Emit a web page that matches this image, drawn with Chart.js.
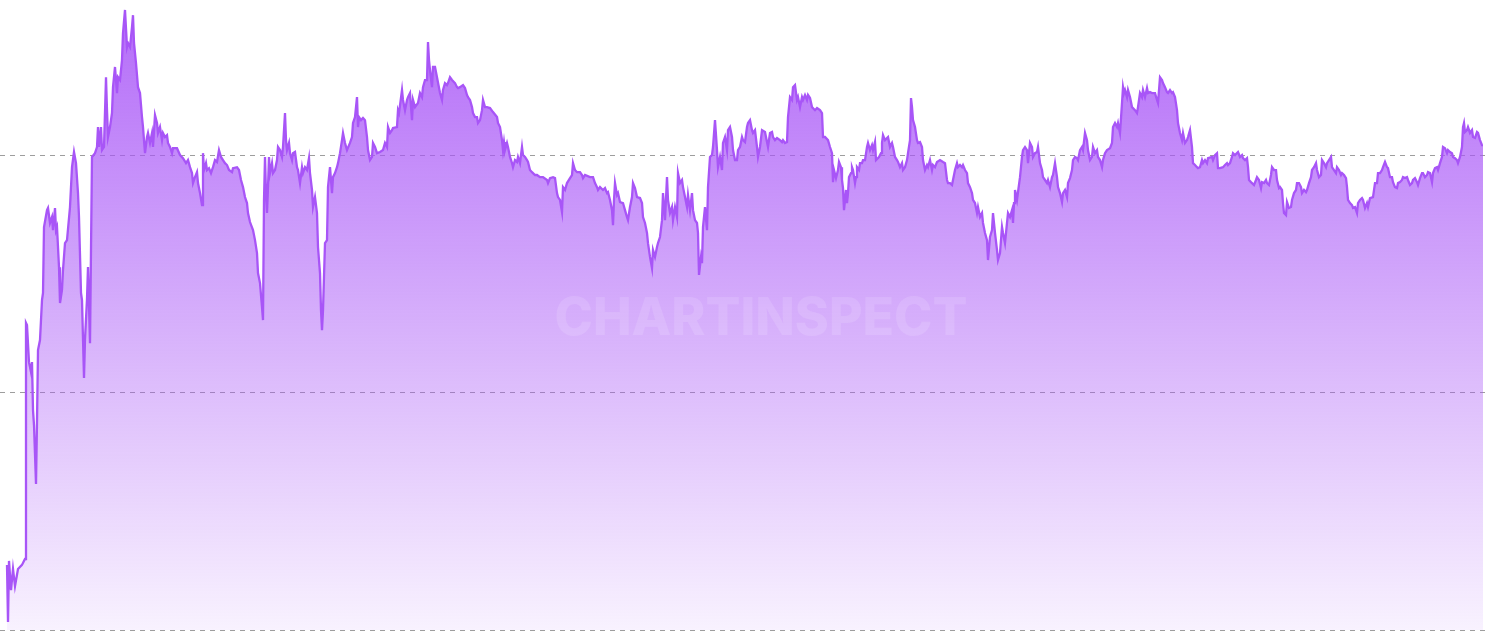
<!DOCTYPE html>
<html>
<head>
<meta charset="utf-8">
<script src="https://cdn.jsdelivr.net/npm/chart.js@4/dist/chart.umd.min.js"></script>
<style>
  html, body { margin: 0; padding: 0; background: #ffffff; }
  #wrap { width: 1490px; height: 633px; position: relative; }
</style>
</head>
<body>
<div id="wrap"><canvas id="metricChart"></canvas></div>
<script>
// day offsets from the first sample
const days = [
    0,1,2,4,6,8,11,15,18,19,
    20,22,24,25,26,27,29,30,31,33,
    35,36,37,40,41,43,45,46,48,49,
    50,52,53,55,56,58,60,63,65,67,
    69,71,72,74,75,77,78,80,81,83,
    85,88,90,91,92,94,95,97,99,100,
    101,103,105,106,108,110,111,113,115,116,
    118,120,121,123,125,126,127,129,131,133,
    135,136,138,140,141,143,145,146,148,150,
    151,153,155,156,158,160,161,163,165,166,
    170,173,176,179,181,183,185,186,188,190,
    191,193,195,196,197,199,200,202,204,206,
    208,210,212,214,216,218,220,222,225,226,
    230,232,234,236,238,240,241,243,246,248,
    250,251,253,255,256,257,258,259,260,261,
    262,263,265,266,268,270,271,273,275,276,
    278,279,280,282,283,285,286,288,290,291,
    293,295,296,298,300,302,303,305,306,308,
    310,311,313,314,315,316,318,320,321,323,
    325,326,328,330,331,333,335,336,338,340,
    343,345,346,348,350,351,352,354,356,358,
    360,361,363,365,366,368,370,373,376,378,
    380,381,383,385,386,390,391,392,395,396,
    398,400,401,403,405,406,408,411,413,415,
    416,418,420,421,422,423,425,426,428,430,
    433,435,436,438,440,441,443,445,448,450,
    451,453,456,458,460,461,463,465,466,468,
    470,471,473,475,476,478,480,483,486,490,
    491,493,495,496,497,498,500,501,503,505,
    506,508,510,511,513,515,516,518,520,521,
    523,525,528,530,533,536,540,541,543,546,
    548,550,551,553,555,556,558,560,563,565,
    566,568,570,573,575,576,578,583,586,588,
    590,591,593,596,598,600,601,603,605,606,
    607,608,610,611,613,616,618,620,621,623,
    625,626,628,630,633,635,636,638,640,641,
    643,645,646,648,650,651,653,655,656,658,
    660,661,663,665,666,668,670,671,673,675,
    676,678,680,681,683,685,686,688,690,691,
    692,694,695,696,698,700,701,703,705,706,
    708,710,711,713,715,716,718,720,721,723,
    725,726,728,730,731,733,735,736,738,740,
    741,743,745,746,748,750,751,753,755,758,
    760,761,763,765,766,768,770,773,775,776,
    778,780,781,783,785,786,788,790,791,793,
    795,796,798,800,801,803,805,808,810,813,
    815,816,818,821,823,825,826,827,829,831,
    832,834,835,836,837,839,840,841,842,844,
    845,846,848,849,850,852,853,855,856,858,
    860,861,863,865,866,868,869,872,874,875,
    876,878,880,881,883,885,886,888,890,891,
    893,895,896,898,900,901,903,904,905,906,
    908,910,911,913,915,916,918,920,921,923,
    925,926,928,930,933,936,938,940,941,943,
    945,946,948,950,951,953,955,956,958,960,
    961,963,965,966,968,970,971,973,975,976,
    978,980,981,983,985,986,988,990,991,993,
    995,996,998,1000,1001,1003,1005,1006,1007,1008,
    1010,1011,1013,1015,1016,1018,1020,1021,1023,1025,
    1026,1028,1030,1031,1033,1035,1036,1038,1040,1041,
    1043,1045,1046,1048,1050,1051,1053,1055,1056,1058,
    1060,1061,1063,1065,1066,1068,1070,1071,1073,1075,
    1076,1078,1080,1081,1083,1085,1086,1088,1090,1091,
    1093,1095,1096,1098,1100,1103,1105,1106,1108,1110,
    1111,1113,1115,1116,1117,1118,1120,1121,1123,1125,
    1128,1130,1131,1133,1135,1136,1138,1140,1141,1143,
    1145,1148,1150,1151,1153,1155,1156,1158,1160,1161,
    1163,1165,1166,1168,1170,1171,1173,1175,1176,1178,
    1180,1181,1183,1185,1186,1188,1190,1191,1193,1195,
    1196,1198,1200,1201,1205,1206,1208,1210,1211,1213,
    1216,1218,1220,1221,1223,1225,1226,1228,1231,1233,
    1235,1236,1238,1240,1241,1242,1244,1245,1247,1249,
    1250,1252,1254,1255,1257,1259,1260,1262,1264,1265,
    1267,1269,1270,1272,1273,1275,1276,1277,1279,1280,
    1282,1284,1285,1287,1289,1290,1292,1294,1295,1297,
    1299,1300,1302,1304,1305,1307,1309,1310,1312,1314,
    1315,1317,1319,1320,1322,1324,1325,1327,1329,1330,
    1332,1334,1335,1337,1339,1340,1341,1343,1345,1346,
    1348,1350,1351,1353,1355,1356,1358,1360,1361,1363,
    1366,1368,1370,1371,1373,1375,1376,1378,1380,1381,
    1383,1385,1386,1388,1390,1391,1393,1395,1396,1398,
    1400,1401,1403,1405,1406,1408,1410,1411,1413,1415,
    1416,1418,1420,1421,1423,1425,1426,1428,1430,1431,
    1433,1435,1436,1438,1440,1441,1443,1445,1446,1448,
    1450,1451,1453,1455,1456,1457,1458,1460,1461,1463,
    1465,1466,1468,1470,1471,1473,1475,1476
];

const metricValues = [
    27.4,3.4,29.1,16.8,25.7,18.5,25.7,27.4,29.9,129.3,
    128.4,112.8,108.6,112.8,92.6,86.3,61.5,87.6,117.9,122.1,
    138.9,141.9,169.7,176.8,177.7,171.4,173.9,168.4,177.7,168.4,
    169.7,152.8,137.7,143.2,151.6,162.9,164.2,178.1,194.9,201.3,
    196.6,184.0,173.9,141.9,138.9,106.1,122.5,139.4,152.8,120.8,
    199.2,200.8,203.4,211.8,203.4,211.8,202.1,203.4,232.8,218.9,
    207.6,211.8,217.7,228.6,237.1,226.1,232.8,231.6,240.0,251.4,
    261.1,245.5,247.2,245.5,253.9,258.9,247.2,238.7,228.6,226.1,
    216.0,211.8,200.8,207.6,209.3,205.1,209.3,203.4,216.8,213.5,
    209.3,211.8,206.3,209.3,207.6,208.4,205.1,203.4,200.8,202.9,
    202.9,200.0,198.7,196.6,197.9,194.9,192.4,188.2,190.7,192.8,
    188.2,184.0,178.9,200.8,193.7,196.6,193.7,194.5,192.4,194.9,
    197.9,197.1,202.1,199.2,197.9,196.6,195.8,193.7,192.8,194.5,
    194.9,193.7,189.5,186.5,182.3,179.8,175.6,171.8,168.4,164.2,
    158.7,150.3,146.1,136.0,130.5,181.1,199.2,184.0,175.6,186.5,
    199.2,192.4,196.6,192.4,193.7,197.9,203.4,202.1,199.2,203.4,
    217.7,206.3,202.1,205.1,200.8,197.9,200.8,201.3,194.9,193.7,
    188.2,194.9,192.4,194.9,193.7,198.7,192.4,185.3,178.1,182.3,
    175.6,161.3,150.3,134.7,126.3,134.7,162.9,164.2,186.5,194.9,
    184.0,190.7,192.4,194.9,196.6,200.8,206.3,209.3,205.1,202.1,
    205.1,207.6,213.5,216.0,224.4,211.8,216.0,214.7,215.6,214.7,
    207.6,202.1,197.9,199.2,205.1,203.4,200.8,201.3,202.1,205.1,
    203.4,211.8,209.3,210.5,211.4,211.8,218.9,217.7,227.4,223.2,
    218.9,223.2,224.4,226.1,214.7,223.2,220.2,221.9,226.1,224.4,
    228.6,231.6,231.6,247.6,240.0,235.8,228.6,237.1,237.1,232.8,
    226.1,223.2,227.4,230.3,229.5,230.3,232.8,231.6,230.3,228.6,
    228.2,228.6,229.5,228.2,225.3,224.4,223.2,220.2,217.7,216.0,
    216.0,213.5,214.7,218.9,223.2,220.2,220.2,219.8,218.1,216.0,
    213.5,211.8,206.3,202.1,205.5,202.1,205.1,203.4,199.2,196.6,
    194.9,197.9,197.1,199.2,196.6,203.4,200.0,199.2,197.9,197.1,
    193.7,192.8,191.6,191.6,190.7,190.7,189.5,188.2,190.3,190.7,
    190.3,184.0,182.3,181.1,176.0,186.5,185.3,188.2,190.3,191.6,
    196.6,193.7,192.8,192.8,191.6,190.3,191.6,190.7,190.7,188.2,
    186.5,185.3,186.5,185.3,186.1,184.0,184.4,181.1,176.8,170.5,
    181.1,188.2,183.2,184.0,180.2,179.8,176.8,173.9,172.6,178.1,
    182.3,188.2,186.1,182.3,181.9,179.8,173.9,171.4,167.2,162.9,
    157.1,152.4,160.0,157.1,161.3,162.9,165.5,172.6,184.0,172.6,
    190.7,181.1,175.6,178.1,172.6,178.1,173.9,192.4,188.2,189.5,
    186.5,182.3,178.1,183.2,176.8,184.0,176.8,172.6,171.4,167.2,
    149.5,157.1,154.5,169.7,178.1,168.4,186.5,199.2,200.0,203.4,
    214.7,202.1,194.9,199.2,193.7,205.1,207.6,202.1,210.5,211.8,
    207.6,202.1,197.9,197.9,202.1,203.4,207.6,206.3,205.5,211.8,
    213.5,214.7,210.5,209.3,210.5,203.4,199.2,203.4,210.5,209.7,
    205.5,203.4,209.3,209.7,207.6,206.3,207.2,206.3,205.5,206.3,
    205.1,205.5,216.0,224.4,223.2,228.6,229.5,223.2,224.4,220.2,
    224.4,223.2,225.3,223.2,225.3,224.0,220.2,218.9,219.8,218.9,
    217.7,207.6,207.6,206.3,203.4,200.8,188.6,193.7,190.3,193.7,
    197.1,194.9,189.5,186.1,176.8,185.3,179.8,184.0,190.7,192.4,
    194.9,193.7,188.2,190.7,194.9,193.7,196.6,196.6,197.9,197.9,
    203.4,205.1,202.1,204.2,202.1,205.5,197.9,199.2,200.8,205.1,
    208.4,206.3,207.2,207.6,203.4,205.1,203.4,199.2,197.9,197.1,
    194.9,196.6,193.7,194.9,197.9,200.8,206.3,224.0,220.2,214.7,
    211.8,206.3,205.1,205.5,203.4,197.9,193.7,195.8,194.9,197.9,
    193.7,195.8,194.9,197.1,197.9,197.1,196.6,189.5,188.2,188.2,
    187.4,189.5,193.7,196.6,194.9,195.8,194.9,195.8,193.7,192.4,
    188.2,186.5,184.0,181.1,179.8,175.6,178.1,173.9,175.6,171.4,
    167.2,164.2,155.8,165.5,168.4,175.6,167.2,160.0,155.8,158.7,
    169.7,167.2,162.9,171.4,175.6,173.9,176.8,171.4,179.8,185.3,
    181.1,184.4,190.7,199.2,202.1,203.4,202.1,196.6,205.1,203.4,
    199.2,200.8,201.3,203.4,196.6,193.7,190.7,189.5,188.2,189.5,
    186.5,190.7,191.6,196.6,190.7,186.5,184.0,180.2,184.0,185.3,
    182.3,188.2,190.3,193.7,197.9,199.2,198.7,197.9,202.1,203.4,
    202.1,209.3,206.3,202.1,197.9,199.2,203.4,200.8,202.1,199.2,
    197.9,194.9,197.9,200.8,202.1,202.9,205.1,211.8,213.5,211.8,
    213.5,209.3,221.9,228.6,226.1,227.4,224.4,227.4,224.4,220.2,
    218.9,217.7,220.2,226.1,224.4,227.4,224.4,228.2,226.1,226.5,
    226.1,226.1,223.2,221.9,232.8,231.6,230.3,228.6,226.5,226.1,
    227.4,226.1,226.5,224.4,218.9,213.5,209.3,206.3,209.3,205.1,
    206.3,207.6,210.5,203.4,196.6,195.8,194.9,194.5,194.9,197.9,
    196.6,197.9,196.6,198.7,199.2,197.9,200.0,200.8,194.5,194.5,
    194.9,195.8,196.6,195.8,196.6,199.2,200.8,200.0,201.3,199.2,
    200.0,198.7,197.9,198.7,194.9,189.5,188.6,188.2,187.4,189.5,
    190.7,189.5,186.1,188.6,188.2,189.5,188.2,187.4,191.6,194.9,
    193.7,193.7,189.5,186.1,186.5,185.3,179.8,175.6,174.7,180.2,
    177.7,178.1,181.1,184.0,185.3,188.2,188.2,186.5,184.0,185.3,
    184.4,185.3,188.2,190.7,193.7,194.9,196.6,193.7,190.7,191.6,
    197.9,196.6,194.9,196.6,197.9,199.2,194.9,193.7,192.4,194.9,
    193.7,191.6,192.4,191.6,190.3,186.5,181.1,179.8,178.9,177.7,
    178.1,175.6,179.8,181.1,181.9,181.1,177.7,179.8,178.1,181.9,
    182.3,188.2,188.2,192.4,192.4,193.7,194.9,197.1,194.9,194.5,
    190.7,190.7,188.6,186.5,186.1,188.2,188.6,189.5,190.7,190.3,
    190.7,189.5,187.4,188.2,189.5,190.3,188.6,187.4,190.3,192.4,
    192.4,190.7,191.6,192.8,192.4,188.6,192.4,194.5,194.9,193.7,
    196.6,199.2,203.4,202.9,200.8,202.1,201.3,200.8,199.2,198.7,
    197.9,196.6,199.2,203.4,211.8,213.5,209.7,210.5,211.8,209.3,
    210.5,207.6,207.2,209.7,209.3,206.3,204.2,204.2
];

// horizontal reference lines
const yGridValues = [0, 100, 200];
const yMax = 265.3;

const watermarkText = "CHARTINSPECT";

const purple = 'rgb(168, 85, 247)';

const watermarkPlugin = {
    id: 'watermark',
    afterDatasetsDraw(chart) {
        const { ctx, chartArea } = chart;
        const cx = (chartArea.left + chartArea.right) / 2 + 18;
        ctx.save();
        ctx.font = '800 52px Inter, "Noto Sans", sans-serif';
        ctx.textAlign = 'center';
        ctx.textBaseline = 'alphabetic';
        ctx.fillStyle = 'rgba(255, 255, 255, 0.12)';
        ctx.fillText(watermarkText, cx, chartArea.top + 335, 413);
        ctx.restore();
    }
};

const ctx = document.getElementById('metricChart').getContext('2d');

new Chart(ctx, {
    type: 'line',
    data: {
        datasets: [{
            label: 'Metric',
            data: days.map((d, i) => ({ x: d, y: metricValues[i] })),
            borderColor: purple,
            borderWidth: 2.3,
            pointRadius: 0,
            tension: 0,
            fill: 'origin',
            backgroundColor: function (context) {
                const area = context.chart.chartArea;
                if (!area) return 'rgba(168, 85, 247, 0.4)';
                const g = context.chart.ctx.createLinearGradient(0, area.top, 0, area.bottom);
                g.addColorStop(0, 'rgba(168, 85, 247, 0.88)');
                g.addColorStop(1, 'rgba(168, 85, 247, 0.08)');
                return g;
            }
        }]
    },
    options: {
        responsive: true,
        maintainAspectRatio: false,
        animation: false,
        layout: { padding: { top: 0, left: 0, right: 4, bottom: 3 } },
        plugins: {
            legend: { display: false },
            tooltip: { enabled: false }
        },
        scales: {
            x: {
                type: 'linear',
                min: -7,
                max: 1479,
                display: false
            },
            y: {
                min: 0,
                max: yMax,
                afterBuildTicks: scale => {
                    scale.ticks = yGridValues.map(v => ({ value: v }));
                },
                ticks: { display: false },
                grid: {
                    drawTicks: false,
                    color: 'rgba(140, 140, 140, 0.85)',
                    lineWidth: 1
                },
                border: { display: false, dash: [5, 5] }
            }
        }
    },
    plugins: [watermarkPlugin]
});
</script>
</body>
</html>
